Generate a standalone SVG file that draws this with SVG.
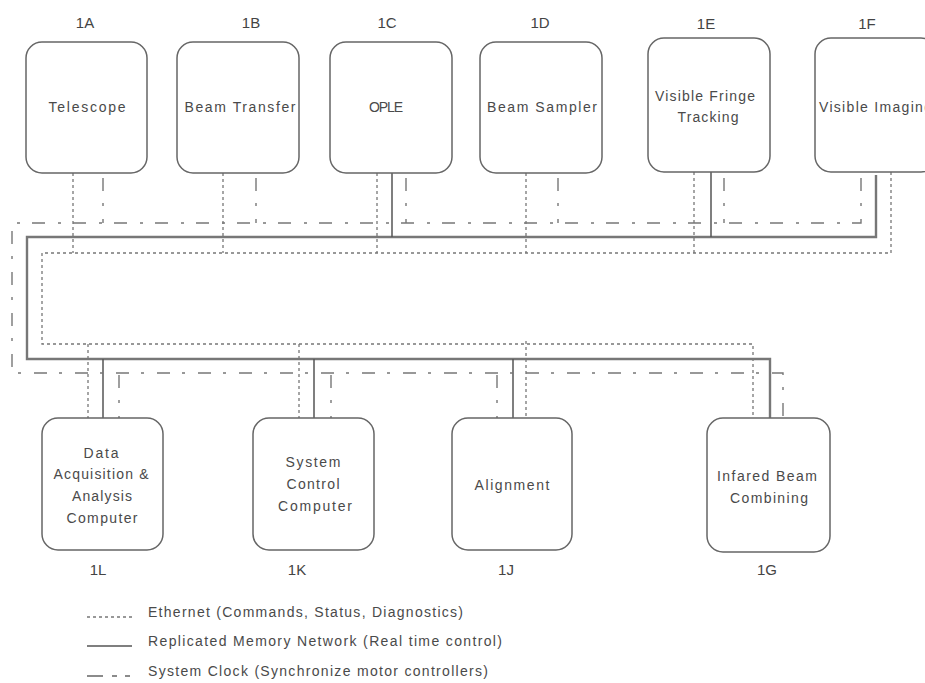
<svg xmlns="http://www.w3.org/2000/svg" width="925" height="683" viewBox="0 0 925 683">
<style>
  .box{fill:#fff;stroke:#666;stroke-width:1.5}
  text{font-family:"Liberation Sans",Arial,sans-serif;font-size:14px;fill:#4a4a4a;text-anchor:middle}
  .lbl{font-size:15px;fill:#444}
  .leg{text-anchor:start}
  .eth{fill:none;stroke:#777;stroke-width:1.3;stroke-dasharray:3 3}
  .mem{fill:none;stroke:#777;stroke-width:2.4}
  .memd{fill:none;stroke:#555;stroke-width:1.5}
  .clk{fill:none;stroke:#777;stroke-width:1.4;stroke-dasharray:13 12 3 13}
</style>
<rect width="925" height="683" fill="#fff"/>
<g id="connectors">
  <path class="eth" d="M891 172 V253 H42 V344 H753 V418"/>
  <path class="eth" d="M73 173 V253 M223 173 V253 M377 173 V253 M526 173 V253 M694 172 V253"/>
  <path class="eth" d="M88 344 V418 M299 344 V418 M526 341 V418"/>
  <path class="mem" d="M876 175 V237 H27 V359 H770 V418"/>
  <path class="memd" d="M392 173 V237 M711 172 V237"/>
  <path class="memd" d="M103 359 V418 M314 359 V418 M513 359 V418"/>
  <path class="clk" d="M861 178 V223 H12 V373 H783 V418"/>
  <path class="clk" d="M103 178 V223 M256 178 V223 M406 178 V223 M558 178 V223 M724 178 V223"/>
  <path class="clk" d="M119 375 V418 M331 375 V418 M497 375 V418"/>
</g>
<g id="n1A"><rect class="box" x="26" y="42" width="121" height="131" rx="16"/><text class="lbl" x="85" y="28">1A</text><text x="87" y="112" textLength="77">Telescope</text></g>
<g id="n1B"><rect class="box" x="177" y="42" width="122" height="131" rx="16"/><text class="lbl" x="251" y="28">1B</text><text x="240" y="112" textLength="111">Beam Transfer</text></g>
<g id="n1C"><rect class="box" x="330" y="42" width="122" height="131" rx="16"/><text class="lbl" x="387" y="28">1C</text><text x="386" y="112" textLength="34">OPLE</text></g>
<g id="n1D"><rect class="box" x="480" y="42" width="122" height="131" rx="16"/><text class="lbl" x="540" y="28">1D</text><text x="542" y="112" textLength="110">Beam Sampler</text></g>
<g id="n1E"><rect class="box" x="648" y="38" width="122" height="134" rx="16"/><text class="lbl" x="706" y="29">1E</text><text x="705" y="101" textLength="100">Visible Fringe</text><text x="708" y="122" textLength="61">Tracking</text></g>
<g id="n1F"><rect class="box" x="815" y="38" width="122" height="134" rx="16"/><text class="lbl" x="867" y="29">1F</text><text class="leg" x="819" y="112" textLength="113">Visible Imaging</text></g>
<g id="n1L"><rect class="box" x="42" y="418" width="121" height="132" rx="16"/><text x="101" y="458" textLength="35">Data</text><text x="101" y="479" textLength="95">Acquisition &amp;</text><text x="102" y="501" textLength="60">Analysis</text><text x="102" y="523" textLength="71">Computer</text><text class="lbl" x="98" y="575">1L</text></g>
<g id="n1K"><rect class="box" x="253" y="418" width="121" height="132" rx="16"/><text x="313" y="467" textLength="55">System</text><text x="313" y="489" textLength="53">Control</text><text x="315" y="511" textLength="74">Computer</text><text class="lbl" x="297" y="575">1K</text></g>
<g id="n1J"><rect class="box" x="452" y="418" width="120" height="132" rx="16"/><text x="512" y="490" textLength="75">Alignment</text><text class="lbl" x="506" y="575">1J</text></g>
<g id="n1G"><rect class="box" x="707" y="418" width="123" height="134" rx="16"/><text x="767" y="481" textLength="100">Infared Beam</text><text x="769" y="503" textLength="78">Combining</text><text class="lbl" x="767" y="575">1G</text></g>
<g id="legend">
  <line class="eth" x1="87" y1="617" x2="133" y2="617" stroke-dasharray="4 3"/>
  <line class="memd" x1="87" y1="646" x2="132" y2="646"/>
  <path d="M87 676 H103 M112 676 H117 M125 676 H130" stroke="#666" stroke-width="1.5" fill="none"/>
  <text class="leg" x="148" y="617" textLength="315">Ethernet (Commands, Status, Diagnostics)</text>
  <text class="leg" x="148" y="646" textLength="354">Replicated Memory Network (Real time control)</text>
  <text class="leg" x="148" y="676" textLength="340">System Clock (Synchronize motor controllers)</text>
</g>
</svg>
